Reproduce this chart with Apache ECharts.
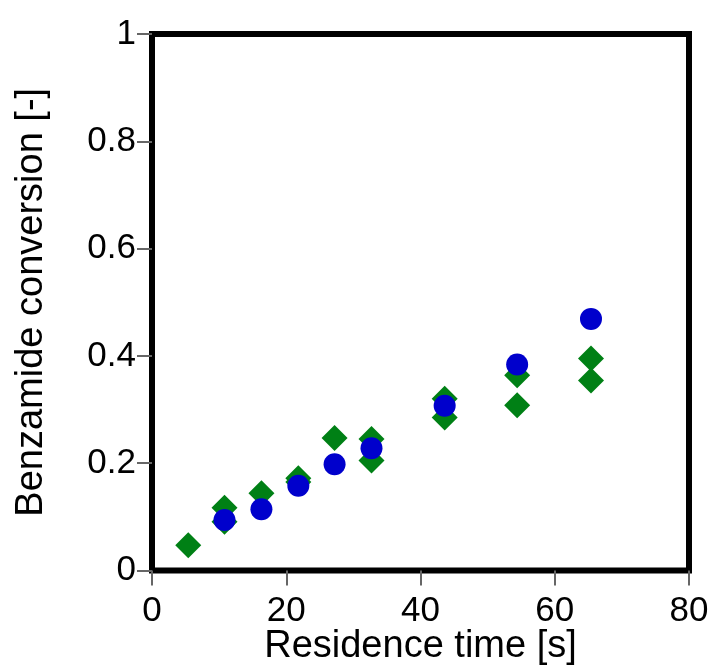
<!DOCTYPE html>
<html>
<head>
<meta charset="utf-8">
<script src="https://cdn.jsdelivr.net/npm/echarts@6/dist/echarts.min.js"></script>
<style>
html,body{margin:0;padding:0;background:#fff;}
#chart{width:712px;height:667px;}
</style>
</head>
<body>
<div id="chart"></div>
<script>
const greenX = [5.4, 10.8, 10.8, 16.3, 21.8, 21.8, 27.2, 32.7, 32.7, 43.6, 43.6, 54.4, 54.4, 65.4, 65.4];
const greenY = [0.047, 0.117, 0.091, 0.144, 0.172, 0.165, 0.247, 0.245, 0.205, 0.320, 0.285, 0.364, 0.308, 0.395, 0.354];
const blueX = [10.8, 16.3, 21.8, 27.2, 32.7, 43.6, 54.4, 65.4];
const blueY = [0.094, 0.114, 0.158, 0.198, 0.228, 0.307, 0.384, 0.469];
const xTitle = 'Residence time [s]';
const yTitle = 'Benzamide conversion [-]';

const font = '"Liberation Sans", Arial, sans-serif';
const chart = echarts.init(document.getElementById('chart'), null, {renderer: 'canvas'});
chart.setOption({
  animation: false,
  backgroundColor: '#fff',
  grid: {left: 152, right: 23, top: 34, bottom: 96.5, show: true, borderColor: '#000', borderWidth: 6,
         backgroundColor: 'transparent', containLabel: false, outerBoundsMode: 'none'},
  xAxis: {
    type: 'value', min: 0, max: 80, interval: 20,
    name: xTitle, nameLocation: 'middle', nameGap: 57, nameMoveOverlap: false,
    nameTextStyle: {fontFamily: font, fontSize: 38, color: '#000', lineHeight: 38},
    axisLine: {show: false},
    axisTick: {show: true, inside: false, length: 15, lineStyle: {color: '#666', width: 2}},
    axisLabel: {fontFamily: font, fontSize: 35, color: '#000', margin: 23, lineHeight: 35},
    splitLine: {show: false}
  },
  yAxis: {
    type: 'value', min: 0, max: 1, interval: 0.2,
    name: yTitle, nameLocation: 'middle', nameGap: 101, nameRotate: 90, nameMoveOverlap: false,
    nameTextStyle: {fontFamily: font, fontSize: 38, color: '#000', lineHeight: 38},
    axisLine: {show: false},
    axisTick: {show: true, inside: false, length: 15, lineStyle: {color: '#666', width: 2}},
    axisLabel: {fontFamily: font, fontSize: 35, color: '#000', margin: 16, lineHeight: 35, padding: [0, 0, 14, 0],
      formatter: v => String(+v.toFixed(1))},
    splitLine: {show: false}
  },
  series: [
    {type: 'scatter', symbol: 'diamond', symbolSize: 26, itemStyle: {color: '#008015', opacity: 1},
     data: greenX.map((x, i) => [x, greenY[i]])},
    {type: 'scatter', symbol: 'circle', symbolSize: 22, itemStyle: {color: '#0000cc', opacity: 1},
     data: blueX.map((x, i) => [x, blueY[i]])}
  ]
});
</script>
</body>
</html>
